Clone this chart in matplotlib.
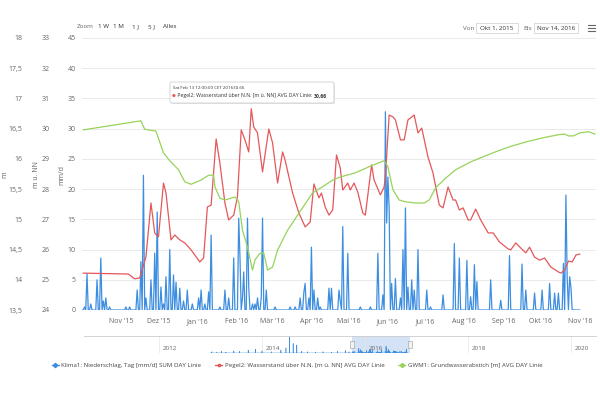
"""Pegel / Grundwasser / Niederschlag stock chart (Okt 2015 - Nov 2016)."""

import matplotlib
import pandas as pd

matplotlib.use("Agg")
import matplotlib.dates as mdates
import matplotlib.pyplot as plt
from matplotlib.lines import Line2D
from matplotlib.patches import FancyBboxPatch, Rectangle

plt.rcParams["font.family"] = ["Open Sans", "DejaVu Sans"]

BLUE = "#3d8ee0"
RED = "#e4575a"
GREEN = "#96d35a"
TEXT = "#666666"
GRID = "#e6e6e6"

# Klima1: Niederschlag, Tag [mm/d] (days not listed are 0)
rain_dates = [
    "2015-10-03", "2015-10-05", "2015-10-08", "2015-10-13", "2015-10-16",
    "2015-10-18", "2015-10-20", "2015-10-23", "2015-11-05", "2015-11-08",
    "2015-11-14", "2015-11-17", "2015-11-19", "2015-11-21", "2015-11-25",
    "2015-11-28", "2015-11-30", "2015-12-03", "2015-12-05", "2015-12-07",
    "2015-12-10", "2015-12-13", "2015-12-15", "2015-12-18", "2015-12-21",
    "2015-12-24", "2015-12-28", "2016-01-02", "2016-01-04", "2016-01-07",
    "2016-01-10", "2016-01-12", "2016-01-19", "2016-01-23", "2016-01-26",
    "2016-01-30", "2016-02-03", "2016-02-04", "2016-02-06", "2016-02-07",
    "2016-02-10", "2016-02-11", "2016-02-14", "2016-02-16", "2016-02-18",
    "2016-02-21", "2016-02-22", "2016-02-25", "2016-03-03", "2016-03-15",
    "2016-03-19", "2016-03-23", "2016-03-26", "2016-03-27", "2016-03-30",
    "2016-04-01", "2016-04-03", "2016-04-06", "2016-04-08", "2016-04-15",
    "2016-04-17", "2016-04-23", "2016-04-24", "2016-04-26", "2016-04-30",
    "2016-05-10", "2016-05-18", "2016-05-24", "2016-05-28", "2016-05-30",
    "2016-05-31", "2016-06-01", "2016-06-02", "2016-06-04", "2016-06-07",
    "2016-06-11", "2016-06-13", "2016-06-15", "2016-06-17", "2016-06-20",
    "2016-06-22", "2016-06-25", "2016-07-02", "2016-07-05", "2016-07-15",
    "2016-07-24", "2016-07-28", "2016-08-03", "2016-08-06", "2016-08-09",
    "2016-08-11", "2016-08-22", "2016-08-30", "2016-09-06", "2016-09-16",
    "2016-09-19", "2016-09-26", "2016-10-02", "2016-10-08", "2016-10-12",
    "2016-10-15", "2016-10-19", "2016-10-21", "2016-10-22", "2016-10-24",
    "2016-10-25",
]
rain_mm = [
    0.5, 6.0, 1.0, 5.0, 8.6,
    1.5, 2.0, 0.5, 0.5, 0.5,
    3.3, 8.0, 22.3, 2.0, 5.0,
    9.4, 16.2, 3.8, 1.0, 5.5,
    10.0, 5.8, 4.6, 3.6, 1.5,
    3.3, 1.0, 2.0, 3.3, 1.0,
    3.0, 12.4, 0.5, 3.3, 2.0,
    8.6, 15.2, 8.8, 2.0, 6.3,
    15.2, 3.8, 1.0, 1.0, 2.0,
    2.0, 15.2, 3.3, 0.5, 0.5,
    0.5, 2.0, 3.0, 4.4, 2.0,
    10.4, 3.3, 2.0, 0.5, 3.6,
    3.6, 3.3, 1.5, 13.8, 9.4,
    0.5, 0.5, 9.4, 2.5, 32.8,
    14.4, 22.0, 16.9, 4.4, 5.2,
    2.0, 10.0, 16.9, 3.8, 5.0,
    3.3, 10.0, 3.3, 0.5, 2.5,
    11.0, 8.6, 8.2, 2.2, 7.5,
    4.7, 5.0, 1.6, 9.0, 7.6,
    3.3, 2.8, 3.3, 4.4, 2.8,
    2.8, 7.7, 19.0, 5.5, 5.5,
    3.8,
]

# Pegel2: Wasserstand über N.N. [m ü. NN]
pegel_dates = [
    "2015-10-02", "2015-11-07", "2015-11-12", "2015-11-16", "2015-11-21",
    "2015-11-25", "2015-11-28", "2015-12-01", "2015-12-05", "2015-12-07",
    "2015-12-11", "2015-12-14", "2015-12-18", "2015-12-22", "2015-12-27",
    "2016-01-03", "2016-01-06", "2016-01-09", "2016-01-12", "2016-01-16",
    "2016-01-19", "2016-01-23", "2016-01-26", "2016-01-30", "2016-02-02",
    "2016-02-05", "2016-02-08", "2016-02-11", "2016-02-13", "2016-02-15",
    "2016-02-18", "2016-02-22", "2016-02-27", "2016-03-01", "2016-03-05",
    "2016-03-09", "2016-03-11", "2016-03-17", "2016-03-22", "2016-03-27",
    "2016-03-31", "2016-04-03", "2016-04-07", "2016-04-09", "2016-04-12",
    "2016-04-15", "2016-04-18", "2016-04-21", "2016-04-24", "2016-04-26",
    "2016-04-30", "2016-05-02", "2016-05-05", "2016-05-08", "2016-05-12",
    "2016-05-14", "2016-05-19", "2016-05-21", "2016-05-26", "2016-05-29",
    "2016-05-30", "2016-06-02", "2016-06-05", "2016-06-07", "2016-06-11",
    "2016-06-14", "2016-06-17", "2016-06-22", "2016-06-25", "2016-06-28",
    "2016-07-03", "2016-07-07", "2016-07-12", "2016-07-15", "2016-07-19",
    "2016-07-23", "2016-07-25", "2016-07-28", "2016-07-31", "2016-08-04",
    "2016-08-06", "2016-08-10", "2016-08-14", "2016-08-20", "2016-08-24",
    "2016-08-29", "2016-09-05", "2016-09-07", "2016-09-11", "2016-09-15",
    "2016-09-19", "2016-09-22", "2016-09-26", "2016-09-30", "2016-10-04",
    "2016-10-09", "2016-10-15", "2016-10-17", "2016-10-20", "2016-10-23",
    "2016-10-26", "2016-10-29", "2016-11-01",
]
pegel_m = [
    25.22, 25.19, 25.03, 25.06, 25.75,
    27.54, 26.55, 26.42, 28.20, 27.87,
    26.32, 26.48, 26.32, 26.22, 25.99,
    25.59, 25.72, 27.41, 27.47, 29.66,
    28.86, 27.54, 26.98, 27.14, 27.74,
    29.96, 29.63, 29.23, 30.66, 30.06,
    29.86, 28.57, 29.99, 29.53, 28.20,
    29.23, 28.96, 27.87, 27.21, 26.75,
    26.91, 28.17, 27.71, 27.87, 27.41,
    27.14, 27.31, 29.13, 28.70, 27.97,
    28.20, 27.97, 28.20, 27.90, 27.21,
    27.14, 28.80, 28.30, 27.81, 28.07,
    28.40, 30.45, 30.39, 30.29, 29.63,
    29.63, 30.29, 30.45, 29.86, 30.02,
    29.06, 28.53, 27.47, 27.38, 28.07,
    27.64, 27.64, 27.31, 27.38, 26.98,
    26.98, 27.34, 26.98, 26.55, 26.55,
    26.25, 26.02, 25.99, 26.22, 26.05,
    25.89, 26.08, 25.75, 25.65, 25.72,
    25.42, 25.26, 25.22, 25.32, 25.62,
    25.59, 25.82, 25.85,
]

# GWM1: Grundwasserabstich [m]
gwm_dates = [
    "2015-10-02", "2015-11-17", "2015-11-20", "2015-11-29", "2015-12-05",
    "2015-12-10", "2015-12-17", "2015-12-22", "2015-12-27", "2016-01-04",
    "2016-01-10", "2016-01-14", "2016-01-15", "2016-01-19", "2016-01-23",
    "2016-01-31", "2016-02-03", "2016-02-06", "2016-02-10", "2016-02-14",
    "2016-02-16", "2016-02-20", "2016-02-23", "2016-02-26", "2016-03-01",
    "2016-03-05", "2016-03-13", "2016-03-22", "2016-04-02", "2016-04-10",
    "2016-04-18", "2016-04-24", "2016-05-06", "2016-05-17", "2016-05-29",
    "2016-06-01", "2016-06-05", "2016-06-10", "2016-06-15", "2016-06-23",
    "2016-06-30", "2016-07-04", "2016-07-09", "2016-07-17", "2016-07-25",
    "2016-08-06", "2016-08-13", "2016-08-25", "2016-09-06", "2016-09-19",
    "2016-10-03", "2016-10-15", "2016-10-20", "2016-10-23", "2016-10-27",
    "2016-11-01", "2016-11-08", "2016-11-13",
]
gwm_m = [
    16.48, 16.63, 16.49, 16.46, 16.10,
    15.97, 15.82, 15.62, 15.58, 15.65,
    15.73, 15.73, 15.54, 15.35, 15.32,
    15.37, 15.29, 14.82, 14.54, 14.16,
    14.33, 14.44, 14.44, 14.16, 14.21,
    14.49, 14.82, 15.10, 15.44, 15.54,
    15.65, 15.70, 15.77, 15.87, 15.97,
    15.87, 15.49, 15.32, 15.29, 15.27,
    15.27, 15.32, 15.52, 15.68, 15.82,
    15.95, 16.01, 16.11, 16.20, 16.28,
    16.35, 16.40, 16.41, 16.38, 16.38,
    16.43, 16.45, 16.41,
]

# navigator: rainfall peaks before the selected range (mm/d)
nav_dates = [
    "2013-01-10", "2013-02-15", "2013-03-20", "2013-04-20", "2013-06-15",
    "2013-07-25", "2013-09-25", "2013-11-15", "2014-01-01", "2014-03-10",
    "2014-05-15", "2014-06-20", "2014-07-15", "2014-08-10", "2014-09-05",
    "2014-10-10", "2014-11-20", "2015-01-15", "2015-03-10", "2015-05-10",
    "2015-06-20", "2015-08-15", "2015-09-10",
]
nav_mm = [
    6, 4, 8, 5, 10,
    8, 14, 18, 10, 6,
    14, 24, 76, 45, 38,
    8, 6, 5, 6, 4,
    8, 12, 6,
]

month_labels = [
    "Nov '15", "Dez '15", "Jan '16", "Feb '16", "Mär '16", "Apr '16",
    "Mai '16", "Jun '16", "Jul '16", "Aug '16", "Sep '16", "Okt '16",
    "Nov '16",
]
legend_labels = [
    "Klima1: Niederschlag, Tag [mm/d] SUM DAY Linie",
    "Pegel2: Wasserstand über N.N. [m ü. NN] AVG DAY Linie",
    "GWM1: Grundwasserabstich [m] AVG DAY Linie",
]

W, H = 600, 396


def fx(px):
    return px / W


def fy(py):
    return 1 - py / H


def comma(value, _pos=None):
    return f"{value:g}".replace(".", ",")


rain_days = pd.date_range("2015-10-01", "2016-11-01", freq="D")
rain = pd.Series(0.0, index=rain_days)
rain[pd.to_datetime(rain_dates)] = rain_mm

fig = plt.figure(figsize=(W / 100, H / 100), dpi=100)
ax = fig.add_axes([fx(82), fy(310), fx(596 - 82), 272 / H])
ax_r = ax.twinx()
ax_g = ax.twinx()

ax.plot(rain.index, rain.values, color=BLUE, lw=0.9, zorder=2)
ax_r.plot(pd.to_datetime(pegel_dates), pegel_m, color=RED, lw=0.9)
ax_g.plot(pd.to_datetime(gwm_dates), gwm_m, color=GREEN, lw=0.9)

ax.set_xlim(pd.Timestamp("2015-10-01"), pd.Timestamp("2016-11-14"))
ax.set_ylim(0, 45)
ax.set_yticks(range(0, 46, 5))
ax_r.set_ylim(24, 33)
ax_r.set_yticks(range(24, 34))
ax_g.set_ylim(13.5, 18)
ax_g.set_yticks([13.5 + 0.5 * i for i in range(10)])

ax.yaxis.grid(True, color=GRID, lw=0.6)
ax.set_axisbelow(True)

for axis, pad in ((ax, 4.5), (ax_r, 23.5), (ax_g, 43)):
    for spine in axis.spines.values():
        spine.set_visible(False)
    axis.yaxis.tick_left()
    axis.yaxis.set_major_formatter(plt.FuncFormatter(comma))
    axis.tick_params(axis="y", length=0, pad=pad, labelsize=5, labelcolor=TEXT)

ax.xaxis.set_major_locator(mdates.MonthLocator(bymonthday=1))
ax.set_xticks(ax.get_xticks()[1:])
ax.set_xticklabels(month_labels)
ax.tick_params(axis="x", length=0, pad=6, labelsize=5, labelcolor=TEXT)

for label, xpos in (("m", 5), ("m u. NN", 36), ("mm/d", 62)):
    fig.text(fx(xpos), fy(175), label, rotation=90, ha="center",
             va="center", fontsize=5, color=TEXT)

# overlay for controls and tooltip (figure coordinates)
top = fig.add_axes([0, 0, 1, 1], zorder=10)
top.set_xlim(0, W)
top.set_ylim(H, 0)
top.axis("off")

top.text(77, 27, "Zoom", fontsize=4.5, color=TEXT, va="center")
for label, xpos in (("1 W", 98), ("1 M", 113), ("1 J", 132),
                    ("5 J", 148), ("Alles", 163)):
    top.text(xpos, 27, label, fontsize=4.5, color="#333333", va="center")
top.text(463, 28, "Von", fontsize=4.5, color=TEXT, va="center")
top.text(523, 28, "Bis", fontsize=4.5, color=TEXT, va="center")
for x0, x1, label in ((476, 518, "Okt 1, 2015"), (534, 578, "Nov 14, 2016")):
    top.add_patch(Rectangle((x0, 23), x1 - x0, 10, facecolor="white",
                            edgecolor="#cccccc", lw=0.5))
    top.text((x0 + x1) / 2, 28, label, fontsize=4.5, color="#333333",
             ha="center", va="center")
for ypos in (24.5, 27.5, 30.5):
    top.plot([588, 595], [ypos, ypos], color="#666666", lw=0.8)

top.add_patch(FancyBboxPatch((171, 83), 164, 21,
                             boxstyle="round,pad=0,rounding_size=2",
                             facecolor="#e6e6e6", edgecolor="none"))
top.add_patch(FancyBboxPatch((170, 82), 164, 21,
                             boxstyle="round,pad=0,rounding_size=2",
                             facecolor="white", edgecolor="#c8c8c8", lw=0.5))
top.text(173, 88, "Sat Feb 13 12:00:00 CET 201630.66", fontsize=3.2,
         color="#333333", va="center")
bullet = top.text(172, 96, "●", fontsize=3.2, color=RED, va="center")
body = top.annotate(" Pegel2: Wasserstand über N.N. [m ü. NN] AVG DAY Linie: ",
                    xy=(1, 0.5), xycoords=bullet, va="center", ha="left",
                    fontsize=3.7, color="#333333")
top.annotate("30,66", xy=(1, 0.5), xycoords=body, va="center", ha="left",
             fontsize=3.7, color="#333333", fontweight="bold")

# navigator
nav = fig.add_axes([fx(84), fy(353), fx(597 - 84), 17 / H])
nav_days = pd.date_range("2013-01-01", "2015-09-30", freq="D")
nav_series = pd.Series(0.0, index=nav_days)
nav_series[pd.to_datetime(nav_dates)] = nav_mm
nav_series = pd.concat([nav_series, rain])
nav.plot(nav_series.index, nav_series.values, color=BLUE, lw=0.4)
nav.fill_between(nav_series.index, nav_series.values, color=BLUE,
                 alpha=0.05, lw=0)
nav.set_xlim(pd.Timestamp("2010-07-18"), pd.Timestamp("2020-07-05"))
nav.set_ylim(0, 80)
nav.axvspan(pd.Timestamp("2015-10-01"), pd.Timestamp("2016-11-14"),
            color="#c9dcf3", alpha=0.8, lw=0, zorder=0)
nav.axhline(80, color="#cccccc", lw=0.6)
for year in (2012, 2014, 2016, 2018, 2020):
    stamp = pd.Timestamp(f"{year}-01-01")
    nav.axvline(stamp, color="#e6e6e6", lw=0.5, zorder=0)
    nav.annotate(str(year), xy=(mdates.date2num(stamp), 0.25),
                 xycoords=nav.get_xaxis_transform(), xytext=(3, 0),
                 textcoords="offset points", fontsize=4.5, color=TEXT,
                 va="center")
for edge in ("2015-10-01", "2016-11-14"):
    centre = mdates.date2num(pd.Timestamp(edge))
    nav.add_patch(Rectangle((centre - 13, 0.3), 26, 0.42,
                            transform=nav.get_xaxis_transform(),
                            facecolor="#f2f2f2", edgecolor="#999999",
                            lw=0.4, zorder=5))
nav.axis("off")

# legend
handles = [
    Line2D([], [], color=BLUE, lw=0.9, marker="D", markersize=2.2),
    Line2D([], [], color=RED, lw=0.9, marker="s", markersize=1.8),
    Line2D([], [], color=GREEN, lw=0.9, marker="D", markersize=2.2),
]
fig.legend(handles, legend_labels, loc="center", ncol=3, frameon=False,
           bbox_to_anchor=(fx(297), fy(365)), fontsize=4.4,
           handlelength=1.2, handletextpad=0.4, columnspacing=2.2,
           labelcolor="#444444")

fig.savefig("out.png", dpi=100)
